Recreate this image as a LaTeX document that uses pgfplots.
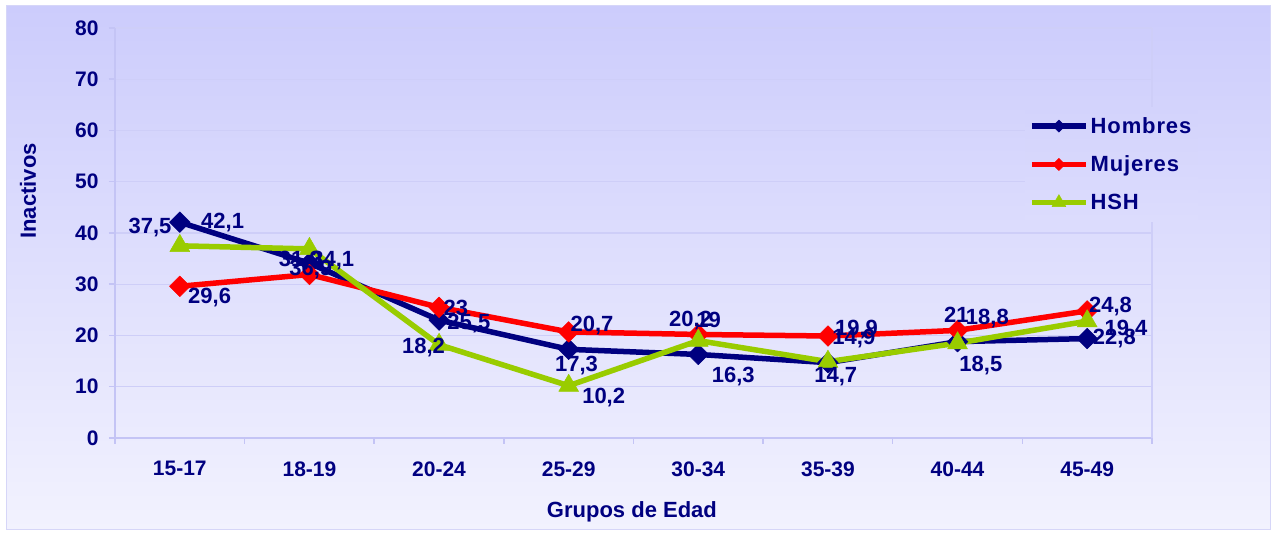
\documentclass[border=0pt]{standalone}
\usepackage{pgfplots}
\pgfplotsset{compat=1.18}
\usepackage{pgfplotstable}
\usepackage{fontspec}
\setmainfont{Liberation Sans}
\newfontfamily\legfont[LetterSpace=4]{Liberation Sans}
\definecolor{navyc}{RGB}{0,0,128}
\definecolor{redc}{RGB}{255,0,0}
\definecolor{greenc}{RGB}{153,204,0}
\definecolor{gridc}{RGB}{206,206,248}
\definecolor{axc}{RGB}{196,196,245}
\definecolor{bgtop}{RGB}{204,204,252}
\definecolor{bgbot}{RGB}{242,242,254}
\definecolor{legtop}{RGB}{211,211,252}
\definecolor{legbot}{RGB}{220,220,253}

\pgfplotsset{
  legsmall/.style={legend image code/.code={\draw[##1, mark repeat=2, mark phase=2, mark size=#1] plot coordinates {(0pt,0pt) (27pt,0pt) (54pt,0pt)};}},
}

\pgfplotstableread{
x y
0 42.1
1 34.1
2 23.0
3 17.3
4 16.3
5 14.7
6 18.8
7 19.4
}\hombres
\pgfplotstableread{
x y
0 29.6
1 31.9
2 25.5
3 20.7
4 20.2
5 19.9
6 21.0
7 24.8
}\mujeres
\pgfplotstableread{
x y
0 37.5
1 36.9
2 18.2
3 10.2
4 19.0
5 14.9
6 18.5
7 22.8
}\hsh
\pgfplotstableread{
x y lab
-0.23 41.0 37,5
0.33 42.1 42,1
0.23 27.5 29,6
0.93 34.7 31,9
1.18 34.7 34,1
1.01 32.8 36,9
2.13 25.4 23
2.23 22.4 25,5
1.88 17.6 18,2
3.18 22.0 20,7
3.06 14.2 17,3
3.27 7.8 10,2
3.94 23.0 20,2
4.08 23.0 19
4.27 11.9 16,3
5.22 21.1 19,9
5.20 19.5 14,9
5.06 11.9 14,7
5.99 24.0 21
6.23 23.4 18,8
6.18 14.2 18,5
7.18 25.6 24,8
7.30 21.1 19,4
7.21 19.5 22,8
}\labels

\begin{document}
\begin{tikzpicture}
\path[use as bounding box] (-115pt,-96pt) rectangle (1162pt,438pt);
\shade[top color=bgtop, bottom color=bgbot] (-108pt,-92pt) rectangle (1155pt,432pt);
\draw[axc!70, line width=1pt] (-108pt,-92pt) rectangle (1155pt,432pt);
\begin{axis}[
  at={(0pt,0pt)}, anchor=south west,
  scale only axis, width=1037pt, height=410pt,
  xmin=-0.5, xmax=7.5, ymin=0, ymax=80,
  clip=false,
  axis x line*=bottom, axis y line*=left,
  axis line style={axc, line width=1.5pt, -},
  xtick={0,...,7},
  xticklabels={15-17,18-19,20-24,25-29,30-34,35-39,40-44,45-49},
  minor xtick={-0.5,0.5,...,7.5},
  ytick={0,10,...,80},
  tick align=outside, major tick length=6pt, minor tick length=6pt,
  major x tick style={draw=none},
  tick style={axc, line width=1.5pt},
  ymajorgrids, grid style={gridc, line width=1.2pt},
  extra x ticks={7.5}, extra x tick labels={},
  extra x tick style={grid=major, major grid style={gridc, line width=1.2pt}},
  /pgf/number format/assume math mode=true,
  ticklabel style={font=\fontsize{21}{25}\selectfont\bfseries, text=navyc},
  yticklabel style={anchor=east, xshift=-7pt},
  xticklabel style={anchor=north, yshift=-14pt},
  xlabel={Grupos de Edad}, ylabel={Inactivos},
  every axis x label/.style={at={(axis description cs:0.4985,-0.1805)}, anchor=center, font=\fontsize{22}{26}\selectfont\bfseries, text=navyc},
  every axis y label/.style={at={(axis description cs:-0.0839,0.6024)}, rotate=90, anchor=center, font=\fontsize{22}{26}\selectfont\bfseries, text=navyc},
  legend style={at={(axis description cs:0.8775,0.807)}, anchor=north west, draw=none,
    top color=legtop, bottom color=legbot,
    font=\legfont\fontsize{22}{26}\selectfont\bfseries, text=navyc,
    inner xsep=4pt, inner ysep=8pt, row sep=17pt,
    /tikz/every even column/.append style={column sep=3pt}},
  legend cell align=left,
  every node near coord/.append style={anchor=center, inner sep=0pt, font=\fontsize{22}{26}\selectfont\bfseries, text=navyc},
]
\addplot[navyc, line width=5.5pt, line join=round, mark=square*, mark size=7.3pt,
  mark options={rotate=45, line width=0.5pt, fill=navyc}, legsmall=4.3pt]
  table[x=x,y=y] {\hombres};
\addlegendentry{Hombres}
\addplot[redc, line width=5.5pt, line join=round, mark=square*, mark size=7.3pt,
  mark options={rotate=45, line width=0.5pt, fill=redc}, legsmall=4.3pt]
  table[x=x,y=y] {\mujeres};
\addlegendentry{Mujeres}
\addplot[greenc, line width=5.5pt, line join=round, mark=triangle*, mark size=11.5pt,
  mark options={line width=0.5pt, fill=greenc}, legsmall=8pt]
  table[x=x,y=y] {\hsh};
\addlegendentry{HSH}
\addplot[draw=none, mark=none, nodes near coords, point meta=explicit symbolic, forget plot]
  table[x=x,y=y,meta=lab] {\labels};
\end{axis}
\end{tikzpicture}
\end{document}
